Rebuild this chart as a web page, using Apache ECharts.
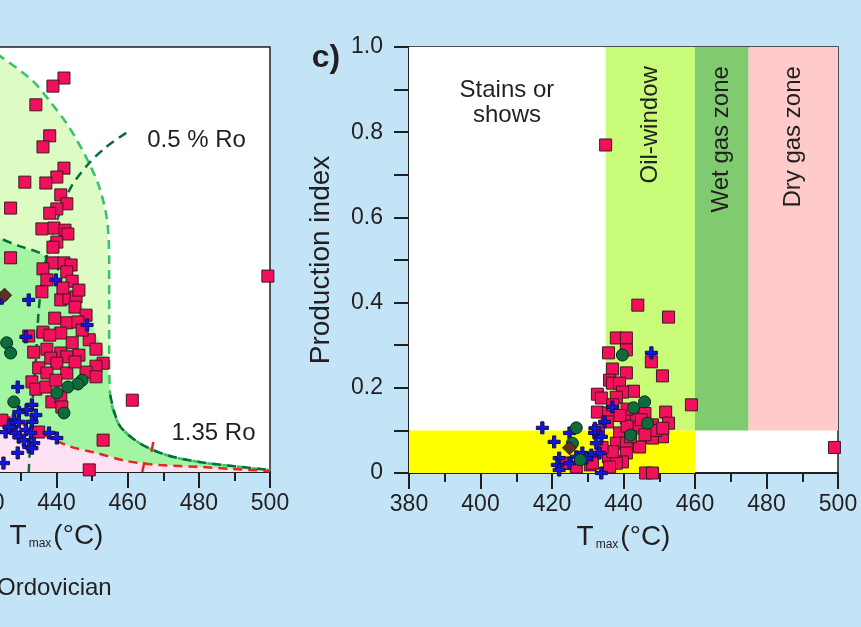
<!DOCTYPE html>
<html>
<head>
<meta charset="utf-8">
<script src="https://cdn.jsdelivr.net/npm/echarts@6/dist/echarts.min.js"></script>
<style>
html, body { margin: 0; padding: 0; background: #c3e4f7; }
#main { width: 861px; height: 627px; }
</style>
</head>
<body>
<div id="main"></div>
<script>
// left panel (HI vs Tmax), only the right part is in view
var hiSquares = [
    [442.1, 927], [439.0, 908], [434.2, 864], [438.1, 791], [436.2, 765], [442.1, 715], [440.1, 694], [437.0, 680],
    [431.1, 682], [441.2, 652], [442.9, 631], [440.1, 619], [438.1, 609], [427.1, 621], [435.9, 572], [439.3, 574],
    [442.4, 569], [443.2, 560], [440.1, 541], [439.0, 529], [427.1, 504], [439.0, 492], [442.1, 492], [444.1, 487],
    [436.2, 478], [442.9, 471], [499.4, 461], [437.3, 452], [444.4, 449], [435.9, 424], [441.2, 405], [443.5, 409],
    [445.5, 412], [445.2, 388], [448.3, 369], [442.9, 351], [446.0, 353], [436.2, 329], [432.2, 320], [441.2, 327],
    [438.1, 322], [449.2, 311], [444.4, 304], [451.1, 289], [437.3, 289], [441.2, 280], [442.9, 271], [438.4, 268],
    [453.1, 256], [435.0, 245], [440.1, 256], [451.1, 249], [442.9, 233], [437.3, 233], [448.3, 235], [451.1, 224],
    [433.1, 212], [434.2, 195], [437.0, 200], [438.7, 165], [441.2, 176], [441.5, 153], [424.6, 122], [435.0, 94],
    [453.1, 75], [461.3, 169], [449.2, 5], [446.3, 275], [447.2, 334], [439.5, 362], [441.8, 433], [446.3, 428],
    [433.6, 282], [439.8, 216], [445.2, 259]
]
var hiCrosses = [
    [439.8, 452], [424.6, 409], [432.2, 405], [448.6, 346], [431.4, 318], [429.1, 200], [433.1, 158], [431.6, 146],
    [434.2, 134], [429.4, 141], [428.0, 122], [429.4, 118], [433.1, 118], [427.4, 106], [425.7, 94], [428.5, 92],
    [431.4, 99], [432.8, 92], [429.4, 82], [430.8, 75], [433.6, 68], [432.2, 59], [433.1, 56], [437.9, 92],
    [440.1, 80], [429.1, 45], [425.1, 21], [426.6, 106]
]
var hiCircles = [[426.0, 304], [427.1, 280], [447.2, 216], [446.0, 207], [443.2, 200], [440.1, 186], [442.1, 139], [428.0, 165]]
var hiDiamonds = [[425.4, 416]]

// maturity zone outlines of the left panel
var paleEdge = [
    [419.5, 1000], [423.7, 981], [433.1, 922], [437.9, 875], [443.5, 812], [448.3, 741], [452.0, 671], [454.2, 593],
    [454.8, 499], [454.8, 405], [454.8, 287], [455.1, 181]
]
var ro135 = [[455.1, 181], [457.6, 111], [463.3, 68], [470.9, 40], [480.2, 23.5], [489.5, 14], [500, 4.7]]
var midEdge = [
    [380, 640], [418.1, 565], [423.7, 551], [429.4, 532], [435.9, 513], [440.7, 475], [444.9, 428], [448.6, 369],
    [451.1, 322], [453.1, 287], [454.2, 252], [455.1, 181]
]
var redLine = [
    [380, 230], [418.1, 158], [423.7, 139], [426.6, 129], [435.0, 94], [443.5, 61], [451.1, 45], [459.6, 26],
    [468.9, 16.5], [480.2, 12], [489.5, 7], [500, 2.4]
]
var ro05 = [
    [459.6, 798], [454.0, 765], [449.2, 727], [444.4, 675], [441.2, 616], [438.4, 546], [436.2, 464], [435.0, 381],
    [434.2, 264], [433.1, 146], [432.2, 0]
]
var redMarks = [[[464.7, 23.5], [464.1, 0]], [[467.2, 70.6], [466.7, 47]]]

// panel c (PI vs Tmax)
var piSquares = [
    [435, 0.77], [459, 0.16], [499, 0.06], [444, 0.394], [452.6, 0.366], [438, 0.317], [440.8, 0.317], [435.8, 0.282],
    [440.8, 0.289], [447.8, 0.261], [436.9, 0.244], [440.8, 0.235], [450.9, 0.228], [436.1, 0.218], [436.9, 0.211],
    [438.9, 0.211], [442.8, 0.192], [439.7, 0.19], [432.7, 0.185], [433.8, 0.176], [438, 0.178], [432.7, 0.143],
    [435.8, 0.141], [451.8, 0.143], [435.5, 0.12], [440.8, 0.129], [443.6, 0.131], [452.6, 0.117], [438.9, 0.094],
    [442, 0.101], [444.5, 0.106], [448.1, 0.113], [450.9, 0.085], [438, 0.07], [440.8, 0.07], [444.5, 0.061],
    [448.1, 0.082], [435.8, 0.038], [440.8, 0.047], [439.7, 0.026], [438, 0.023], [430.7, 0.019], [424, 0.023],
    [436.1, 0.014], [446.2, 0], [448.1, 0], [426.8, 0.014], [423.5, 0.023], [431.3, 0.023], [437, 0.16],
    [441, 0.15], [446, 0.14], [449, 0.1], [442, 0.085], [446, 0.09], [437, 0.05], [434, 0.06], [441, 0.11],
    [445, 0.125], [433, 0.1], [451, 0.105], [439, 0.135]
]
var piCrosses = [
    [447.8, 0.282], [417.3, 0.106], [420.6, 0.073], [424.9, 0.094], [431.9, 0.094], [433.8, 0.085], [432.4, 0.07],
    [431, 0.042], [428.5, 0.047], [426.8, 0.038], [422, 0.035], [421.5, 0.019], [422, 0.007], [433.3, 0.047],
    [433.8, 0], [436.9, 0.155], [434.7, 0.12], [429.6, 0.035], [424.9, 0.023], [432, 0.105]
]
var piCircles = [[439.7, 0.277], [445.9, 0.167], [442.8, 0.153], [446.7, 0.117], [442, 0.089], [426.8, 0.106], [425.7, 0.07], [427.9, 0.031]]
var piDiamonds = [[424.9, 0.059]]

var zoneEdges = [380, 435, 460, 475, 500]
var zoneNames = ['Stains or\nshows', 'Oil-window', 'Wet gas zone', 'Dry gas zone']
var showsTop = 0.1
var showsEnd = 460

var ink = '#231f20'
var font = 'Liberation Sans, Arial, sans-serif'
var zoneColors = ['#ffffff', '#c8fb78', '#80cb6f', '#ffcaca']
var crossPath = 'path://M4,0H7V4H11V7H7V11H4V7H0V4H4Z'

var myChart = echarts.init(document.getElementById('main'))

function xAxisOf(idx) {
    return {
        gridIndex: idx, type: 'value', min: 380, max: 500, interval: 20,
        name: '{t|T}{s|max}{t|(°C)}', nameLocation: 'middle', nameGap: 50,
        nameTextStyle: {
            rich: {
                t: { fontFamily: font, fontSize: 28, color: ink },
                s: { fontFamily: font, fontSize: 12, color: ink, verticalAlign: 'bottom', padding: [0, 2, 0, 2] }
            }
        },
        axisLine: { onZero: false, lineStyle: { color: ink, width: 2 } },
        axisTick: { length: 16, lineStyle: { color: ink, width: 2 } },
        minorTick: { show: true, splitNumber: 2, length: 9, lineStyle: { color: ink, width: 2 } },
        axisLabel: { margin: 20, fontFamily: font, fontSize: 23, color: ink },
        splitLine: { show: false }
    }
}

function polygon(pts, color) {
    return {
        type: 'custom', xAxisIndex: 0, yAxisIndex: 0, silent: true, z: 1, clip: true,
        data: [pts[0]],
        renderItem: function (params, api) {
            return {
                type: 'polygon',
                shape: { points: pts.map(function (p) { return api.coord(p) }) },
                style: { fill: color }
            }
        }
    }
}

function dashed(pts, color, idx) {
    return {
        type: 'line', xAxisIndex: 0, yAxisIndex: 0, data: pts, smooth: 0.3, showSymbol: false, silent: true, z: 2,
        lineStyle: { color: color, width: 2.5, type: [9, 6] }
    }
}

function scatter(idx, pts, symbol, size, color, border) {
    return {
        type: 'scatter', xAxisIndex: idx, yAxisIndex: idx, data: pts, symbol: symbol, symbolSize: size,
        silent: true, z: 4,
        itemStyle: { color: color, borderColor: border, borderWidth: 1, opacity: 1 }
    }
}

// polygons built from the outline arrays
var palePoly = [[380, 1000]].concat(paleEdge, ro135.slice(1), [[500, 0], [380, 0]])
var midPoly = midEdge.concat(ro135.slice(1), redLine.slice().reverse())
var pinkPoly = redLine.concat([[500, 0], [380, 0]])

var zoneRects = []
for (var i = 0; i < zoneNames.length; i++) {
    zoneRects.push([zoneEdges[i], zoneEdges[i + 1], showsTop, 1])
}
zoneRects.push([380, showsEnd, 0, showsTop])

var option = {
    backgroundColor: '#c3e4f7',
    animation: false,
    grid: [
        { left: -157, top: 47, width: 427, height: 425, show: true, backgroundColor: '#fff', borderColor: ink, borderWidth: 1.5, outerBoundsMode: 'none' },
        { left: 409, top: 47, width: 429, height: 426, show: true, backgroundColor: '#fff', borderColor: ink, borderWidth: 1.5, outerBoundsMode: 'none' }
    ],
    xAxis: [xAxisOf(0), xAxisOf(1)],
    yAxis: [
        {
            gridIndex: 0, type: 'value', min: 0, max: 1000,
            axisLine: { show: false }, axisTick: { show: false }, axisLabel: { show: false }, splitLine: { show: false }
        },
        {
            gridIndex: 1, type: 'value', min: 0, max: 1, interval: 0.2,
            name: 'Production index', nameLocation: 'middle', nameGap: 74,
            nameTextStyle: { fontFamily: font, fontSize: 28, color: ink },
            axisLine: { onZero: false, lineStyle: { color: ink, width: 2 } },
            axisTick: { length: 15, lineStyle: { color: ink, width: 2 } },
            minorTick: { show: true, splitNumber: 2, length: 15, lineStyle: { color: ink, width: 2 } },
            axisLabel: {
                margin: 26, fontFamily: font, fontSize: 23, color: ink,
                formatter: function (v) { return v === 0 ? '0' : v.toFixed(1) }
            },
            splitLine: { show: false }
        }
    ],
    series: [
        polygon(palePoly, '#dcfcc4'),
        polygon(midPoly, '#a4f5a2'),
        polygon(pinkPoly, '#fde2f4'),
        dashed(paleEdge.concat(ro135.slice(1)), '#35c268'),
        dashed(ro135, '#0b6b3a'),
        dashed(ro05, '#0b6b3a'),
        dashed(midEdge.slice(0, 6), '#0b6b3a'),
        dashed(redLine, '#e8251f'),
        {
            type: 'line', xAxisIndex: 0, yAxisIndex: 0, data: redMarks[0], showSymbol: false, silent: true, z: 2,
            lineStyle: { color: '#e8251f', width: 2.5 }
        },
        {
            type: 'line', xAxisIndex: 0, yAxisIndex: 0, data: redMarks[1], showSymbol: false, silent: true, z: 2,
            lineStyle: { color: '#e8251f', width: 2.5 }
        },
        {
            type: 'custom', xAxisIndex: 1, yAxisIndex: 1, silent: true, z: 1, clip: true,
            data: zoneRects,
            renderItem: function (params, api) {
                var a = api.coord([api.value(0), api.value(3)])
                var b = api.coord([api.value(1), api.value(2)])
                var color = params.dataIndex < 4 ? zoneColors[params.dataIndex] : '#ffff00'
                return {
                    type: 'rect',
                    shape: { x: a[0], y: a[1], width: b[0] - a[0], height: b[1] - a[1] },
                    style: { fill: color }
                }
            }
        },
        scatter(0, hiSquares, 'rect', 12, '#f2105c', '#3a1a22'),
        scatter(0, hiCrosses, crossPath, 12, '#1414e6', '#10104a'),
        scatter(0, hiCircles, 'circle', 12, '#0d6b3c', '#0a2a18'),
        scatter(0, hiDiamonds, 'diamond', [14, 14], '#5a3325', '#2a1a12'),
        scatter(1, piSquares, 'rect', 12, '#f2105c', '#3a1a22'),
        scatter(1, piCrosses, crossPath, 12, '#1414e6', '#10104a'),
        scatter(1, piCircles, 'circle', 12, '#0d6b3c', '#0a2a18'),
        scatter(1, piDiamonds, 'diamond', [14, 14], '#5a3325', '#2a1a12')
    ]
}
myChart.setOption(option)

// text annotations placed with the chart's own coordinate conversion
function px(idx, v) { return myChart.convertToPixel({ gridIndex: idx }, v) }
var txt = { fontFamily: font, fontSize: 24, fill: ink }
var graphics = []
var pStains = px(1, [407.4, 0.87])
graphics.push({ type: 'text', x: pStains[0], y: pStains[1], z: 10, style: Object.assign({ text: zoneNames[0], align: 'center', verticalAlign: 'middle', lineHeight: 25 }, txt) })
for (var k = 1; k < zoneNames.length; k++) {
    var pz = px(1, [(zoneEdges[k] + zoneEdges[k + 1]) / 2, 0.955])
    graphics.push({ type: 'text', x: pz[0], y: pz[1], rotation: Math.PI / 2, z: 10, style: Object.assign({ text: zoneNames[k], align: 'right', verticalAlign: 'middle' }, txt) })
}
var p05 = px(0, [465.5, 781])
graphics.push({ type: 'text', x: p05[0], y: p05[1], z: 10, style: Object.assign({ text: '0.5 % Ro', align: 'left', verticalAlign: 'middle' }, txt) })
var p135 = px(0, [472.3, 92])
graphics.push({ type: 'text', x: p135[0], y: p135[1], z: 10, style: Object.assign({ text: '1.35 Ro', align: 'left', verticalAlign: 'middle' }, txt) })
graphics.push({ type: 'text', x: 326, y: 58, z: 10, style: { text: 'c)', fontFamily: font, fontSize: 32, fontWeight: 'bold', fill: ink, align: 'center', verticalAlign: 'middle' } })
graphics.push({ type: 'text', x: -3, y: 588, z: 10, style: Object.assign({ text: 'Ordovician', align: 'left', verticalAlign: 'middle' }, txt) })
myChart.setOption({ graphic: graphics })
</script>
</body>
</html>
